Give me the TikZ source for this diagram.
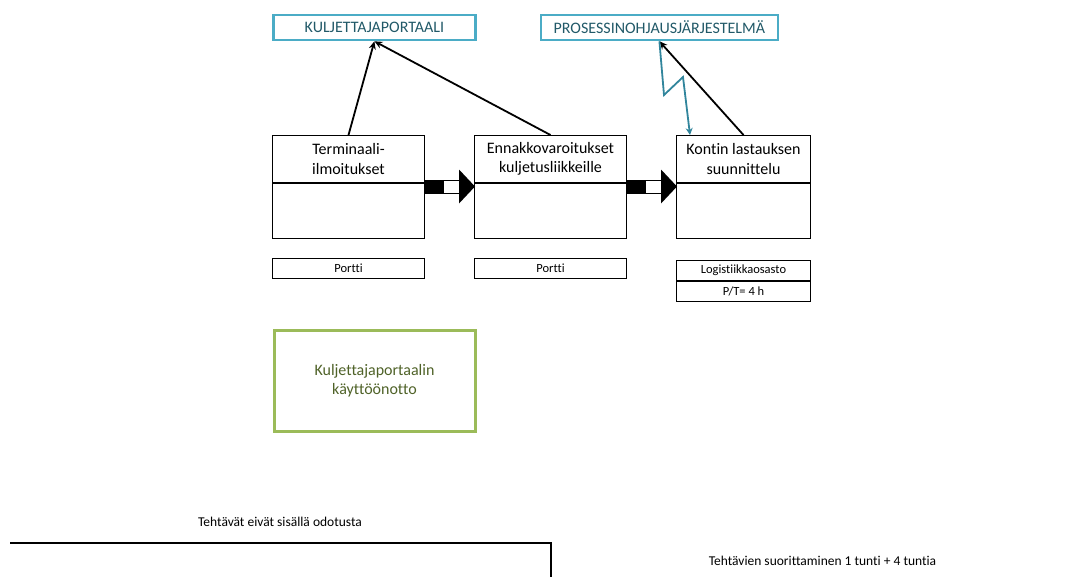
\documentclass[tikz,border=0pt]{standalone}
\usepackage{fontspec}
\setmainfont{Carlito}[Ligatures=NoCommon]
\usetikzlibrary{arrows.meta,calc}
\definecolor{tealline}{HTML}{4BACC6}
\definecolor{tealtext}{HTML}{215968}
\definecolor{boltcol}{HTML}{31859C}
\definecolor{leafline}{HTML}{9BBB59}
\definecolor{leaftext}{HTML}{4F6228}
\begin{document}
\begin{tikzpicture}[x=1pt,y=-1pt,
  sysbox/.style={draw=tealline,line width=2.8pt,text=tealtext,inner sep=0pt,
    minimum height=25pt,anchor=north west,font=\fontsize{16}{19.5}\selectfont},
  headbox/.style={draw,line width=1pt,inner sep=0pt,minimum height=47pt,
    anchor=north west,align=center,font=\fontsize{16}{19.5}\selectfont},
  bodybox/.style={draw,line width=1pt,inner sep=0pt,minimum height=55pt,anchor=north west},
  tagbox/.style={draw,line width=1pt,inner sep=0pt,minimum height=20pt,
    anchor=north west,font=\fontsize{12.5}{15}\selectfont},
  goalbox/.style={draw=leafline,line width=3pt,text=leaftext,inner sep=0pt,
    minimum width=201pt,minimum height=101pt,anchor=north west,align=center,
    font=\fontsize{16}{19.5}\selectfont},
  note/.style={font=\fontsize{13.5}{16}\selectfont,inner sep=0pt},
  link/.style={line width=1.8pt,-{Stealth[length=8pt,width=7pt]}},
  boltline/.style={draw=boltcol,line width=1.8pt,-{Stealth[length=7pt,width=7pt]}},
  fatarrow/.pic={
    \draw[line width=1pt,fill=black] (0,-6.5) rectangle (18,6.5);
    \draw[line width=1pt,fill=white] (18,-6.5) rectangle (34,6.5);
    \fill (34,-17) -- (50,0) -- (34,17) -- cycle;
  }]
\useasboundingbox (0,0) rectangle (1084,576);

% systems at the top
\node[sysbox,minimum width=202pt] (kul) at (272,13.5) {KULJETTAJAPORTAALI};
\node[sysbox,minimum width=237pt] (pros) at (539.5,13.5) {PROSESSINOHJAUSJÄRJESTELMÄ};

% process steps: header and body
\node[headbox,minimum width=152pt] (th) at (272,135) {Terminaali-\\ilmoitukset};
\node[bodybox,minimum width=152pt] (tb) at (th.south west) {};
\node[headbox,minimum width=152pt] (eh) at (474,135) {Ennakkovaroitukset\\kuljetusliikkeille};
\node[bodybox,minimum width=152pt] (eb) at (eh.south west) {};
\node[headbox,minimum width=134pt] (kh) at (676,135) {Kontin lastauksen\\suunnittelu};
\node[bodybox,minimum width=134pt] (kb) at (kh.south west) {};

% responsible parties
\node[tagbox,minimum width=152pt] (tp) at (272,258) {Portti};
\node[tagbox,minimum width=152pt] (ep) at (474,258) {Portti};
\node[tagbox,minimum width=134pt] (kp) at (676,260) {Logistiikkaosasto};
\node[tagbox,minimum width=134pt] (kt) at (kp.south west) {P/T= 4 h};

% flow between steps
\pic at ($(th.south east)+(0,3.5)$) {fatarrow};
\pic at ($(eh.south east)+(0,3.5)$) {fatarrow};

% information links
\draw[link] (th.north) -- (kul.south);
\draw[link] (eh.north) -- (kul.south);
\draw[link] (kh.north) -- (pros.south);
\draw[boltline] (pros.south) -- (664,95) -- (683,77) -- ($(kh.north west)+(14,0)$);

% goal
\node[goalbox] (goal) at (272.5,328.5) {Kuljettajaportaalin\\käyttöönotto};

% timeline notes
\node[note] (n1) at (280,522) {Tehtävät eivät sisällä odotusta};
\node[note] (n2) at (822.5,561) {Tehtävien suorittaminen 1 tunti + 4 tuntia};
\coordinate (b0) at (10,543);
\coordinate (b1) at (551,543);
\coordinate (b2) at (551,580);
\draw[line width=2.6pt] (b0) -- (b1) -- (b2);
\end{tikzpicture}
\end{document}
